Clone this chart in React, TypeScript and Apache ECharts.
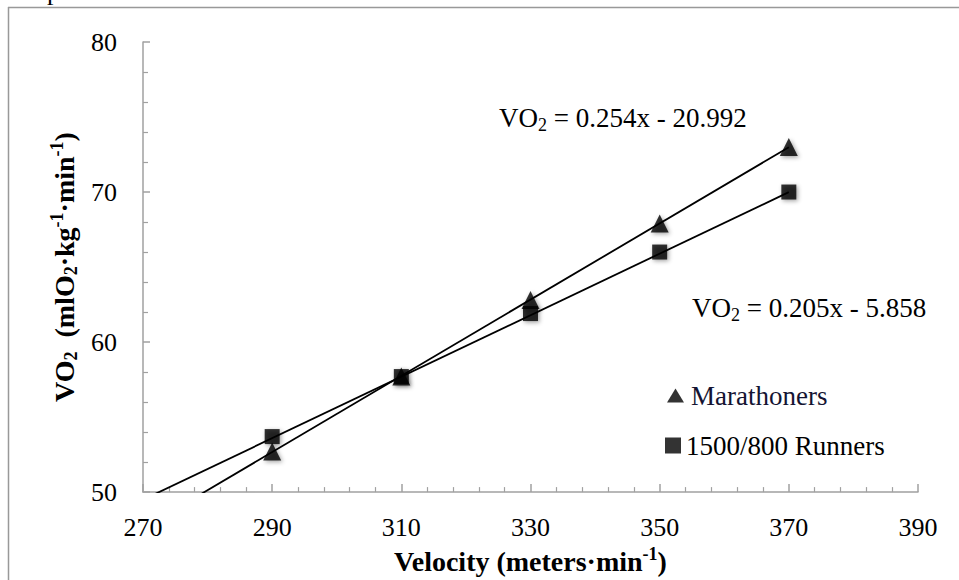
import React, { useEffect, useRef } from "react";
import * as echarts from "echarts";

const velocity = [290, 310, 330, 350, 370];
const marathoners = [52.7, 57.7, 62.8, 67.9, 73.0];
const runners = [53.7, 57.7, 61.9, 66.0, 70.0];
const marathonFit = [0.254, -20.992];
const runnersFit = [0.205, -5.858];
const fitRange = [270, 370];
const xTicks = [270, 390, 20];
const yTicks = [50, 80, 10];

const FONT = "Liberation Serif";
const GREY = "#a0a0a0";

const fitLine = (fit: number[]) => fitRange.map((x) => [x, fit[0] * x + fit[1]]);
const eqText = (fit: number[]) =>
  `{n|VO}{sub|2}{n| = ${fit[0].toFixed(3)}x - ${Math.abs(fit[1]).toFixed(3)}}`;

const rich = {
  n: { fontFamily: FONT, fontSize: 27, lineHeight: 32, fill: "#000", color: "#000", verticalAlign: "middle" },
  sub: { fontFamily: FONT, fontSize: 18, lineHeight: 17, fill: "#000", color: "#000", verticalAlign: "bottom" },
};
const richBold = {
  b: { fontFamily: FONT, fontSize: 28, fontWeight: "bold", lineHeight: 32, color: "#000", verticalAlign: "middle" },
  bsub: { fontFamily: FONT, fontSize: 18, fontWeight: "bold", lineHeight: 17, color: "#000", verticalAlign: "bottom" },
  bsup: { fontFamily: FONT, fontSize: 18, fontWeight: "bold", lineHeight: 17, color: "#000", verticalAlign: "top" },
};

const markerShadow = {
  shadowBlur: 4,
  shadowOffsetX: 1.5,
  shadowOffsetY: 1.5,
  shadowColor: "rgba(0,0,0,0.45)",
};

export default function App() {
  const ref = useRef<HTMLDivElement>(null);
  useEffect(() => {
    if (!ref.current) return;
    const chart = echarts.init(ref.current, undefined, { renderer: "svg" });
    chart.setOption({
      animation: false,
      backgroundColor: "#fff",
      grid: { left: 143, right: 41, top: 42, bottom: 78, containLabel: false },
      xAxis: {
        type: "value",
        min: xTicks[0],
        max: xTicks[1],
        interval: xTicks[2],
        name: "{b|Velocity (meters·min}{bsup|-1}{b|)}",
        nameLocation: "middle",
        nameGap: 47,
        nameTextStyle: { rich: richBold },
        axisLine: { show: true, lineStyle: { color: GREY, width: 1.5 } },
        axisTick: { show: true, inside: true, length: 8, lineStyle: { color: GREY, width: 1.5 } },
        minorTick: { show: true, splitNumber: 5, length: 5, lineStyle: { color: GREY, width: 1.2 } },
        splitLine: { show: false },
        axisLabel: { fontFamily: FONT, fontSize: 26, color: "#000", margin: 22 },
      },
      yAxis: {
        type: "value",
        min: yTicks[0],
        max: yTicks[1],
        interval: yTicks[2],
        name: "{b|VO}{bsub|2}{b|  (mlO}{bsub|2}{b|·kg}{bsup|-1}{b|·min}{bsup|-1}{b|)}",
        nameLocation: "middle",
        nameRotate: 90,
        nameGap: 60,
        nameTextStyle: { rich: richBold },
        axisLine: { show: true, lineStyle: { color: GREY, width: 1.5 } },
        axisTick: { show: true, inside: true, length: 7, lineStyle: { color: GREY, width: 1.5 } },
        minorTick: { show: true, splitNumber: 5, length: 5, lineStyle: { color: GREY, width: 1.2 } },
        splitLine: { show: false },
        axisLabel: { fontFamily: FONT, fontSize: 26, color: "#000", margin: 26 },
      },
      legend: [
        {
          left: 662,
          top: 377,
          data: [{ name: "Marathoners", icon: "triangle" }],
          itemWidth: 17,
          itemHeight: 14,
          itemGap: 0,
          textStyle: { fontFamily: FONT, fontSize: 27, color: "#141432", padding: [0, 0, 0, 2] },
        },
        {
          left: 660,
          top: 427,
          data: [{ name: "1500/800 Runners", icon: "rect" }],
          itemWidth: 16,
          itemHeight: 16,
          itemGap: 0,
          textStyle: { fontFamily: FONT, fontSize: 27, color: "#000", padding: [0, 0, 0, 0] },
        },
      ],
      series: [
        {
          name: "Marathoners fit",
          type: "line",
          data: fitLine(marathonFit),
          showSymbol: false,
          symbol: "none",
          clip: true,
          lineStyle: { color: "#000", width: 1.8 },
          z: 2,
        },
        {
          name: "Runners fit",
          type: "line",
          data: fitLine(runnersFit),
          showSymbol: false,
          symbol: "none",
          clip: true,
          lineStyle: { color: "#000", width: 1.8 },
          z: 2,
        },
        {
          name: "Marathoners",
          type: "scatter",
          data: velocity.map((v, i) => [v, marathoners[i]]),
          symbol: "triangle",
          symbolSize: 18,
          itemStyle: { color: "#000", ...markerShadow },
          z: 3,
        },
        {
          name: "1500/800 Runners",
          type: "scatter",
          data: velocity.map((v, i) => [v, runners[i]]),
          symbol: "rect",
          symbolSize: 15,
          itemStyle: { color: "#000", ...markerShadow },
          z: 4,
        },
      ],
      graphic: [
        { type: "line", shape: { x1: 8, y1: 7.5, x2: 959, y2: 7.5 }, style: { stroke: "#999", lineWidth: 1.5 } },
        { type: "line", shape: { x1: 8.5, y1: 7, x2: 8.5, y2: 580 }, style: { stroke: "#999", lineWidth: 1.5 } },
        {
          type: "text",
          x: 47,
          y: -9,
          style: { text: "p", fontFamily: FONT, fontSize: 26, fill: "#000", verticalAlign: "middle" },
        },
        {
          type: "text",
          x: 499,
          y: 102,
          style: { text: eqText(marathonFit), rich, verticalAlign: "top", align: "left" },
        },
        {
          type: "text",
          x: 692,
          y: 292,
          style: { text: eqText(runnersFit), rich, verticalAlign: "top", align: "left" },
        },
      ],
    });
    return () => chart.dispose();
  }, []);
  return (
    <div
      ref={ref}
      style={{ position: "fixed", left: 0, top: 0, width: 959, height: 580, background: "#fff" }}
    />
  );
}
